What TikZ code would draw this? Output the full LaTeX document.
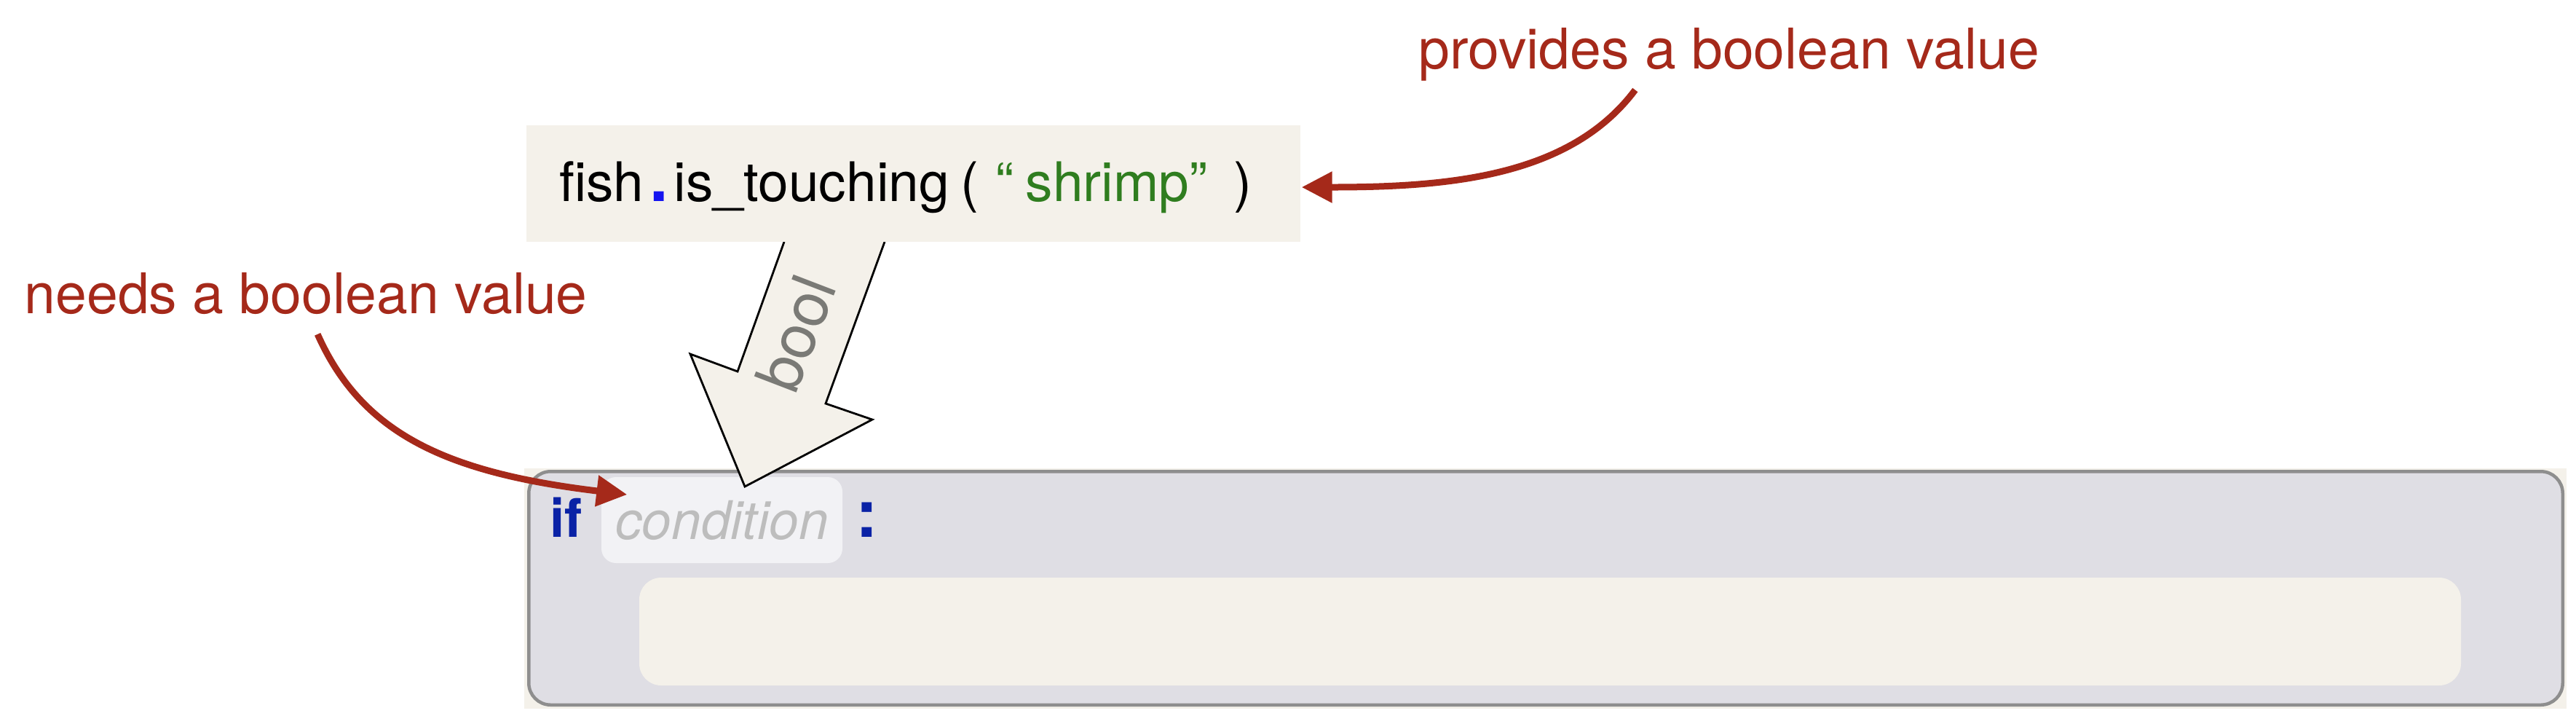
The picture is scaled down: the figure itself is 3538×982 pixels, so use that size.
\documentclass[tikz,border=0pt]{standalone}
\usepackage{fontspec}
\setmainfont{TeX Gyre Heros}
\usepackage{tikz}
\usetikzlibrary{calc,arrows.meta}

\definecolor{paper}{HTML}{F4F1EA}
\definecolor{notered}{HTML}{A5291A}
\definecolor{blockgray}{HTML}{DFDEE4}
\definecolor{edgegray}{HTML}{8E8E8E}
\definecolor{slotfill}{HTML}{F2F2F5}
\definecolor{slottext}{HTML}{BDBDBD}
\definecolor{kwblue}{HTML}{0A22A6}
\definecolor{dotblue}{HTML}{1414F0}
\definecolor{strgreen}{HTML}{2F7D1F}
\definecolor{typegray}{HTML}{7A7A76}

\tikzset{
  note/.style={text=notered, inner sep=0pt, anchor=base west, font=\fontsize{21.9}{26}\selectfont},
  pointer/.style={draw=notered, line width=0.9mm, -{Triangle[length=4.2mm, width=4.1mm]}},
  keyword/.style={text=kwblue, inner sep=0pt, font=\fontsize{20.8}{24}\selectfont\bfseries},
}

\begin{document}
\begin{tikzpicture}[x=0.1mm, y=-0.1mm]
    \useasboundingbox (0,0) rectangle (3538,982);

    \fill[paper] (720,643) rectangle (3525,973);

    \node[draw=edgegray, line width=0.45mm, fill=blockgray, rounded corners=3mm, minimum width=279.35mm, minimum height=32.05mm, inner sep=0pt] (ifblock) at (2123,807.5) {};

    \node[fill=paper, rounded corners=3mm, minimum width=250.2mm, minimum height=14.8mm, inner sep=0pt] (body) at (2129,867) {};

    \node[fill=slotfill, rounded corners=2mm, minimum width=33.1mm, minimum height=11.8mm, inner sep=0pt, text=slottext, font=\fontsize{20.8}{24}\selectfont\itshape] (cond) at (991.5,714) {condition};

    \node[keyword, anchor=base west] (kwif) at ($(cond.west)+(-71,23)$) {if};

    \node[keyword, anchor=base, font=\fontsize{26}{30}\selectfont\bfseries] (kwcolon) at ($(cond.east)+(33,23)$) {:};

    \draw[fill=paper, line width=0.28mm, line join=miter] (1077,332) -- (1013,510) -- (948,486) -- (1023,668) -- (1198,576) -- (1134,554) -- (1215,332);

    \node[text=typegray, rotate=69, inner sep=0pt, font=\fontsize{24.2}{28}\selectfont] (booltype) at (1093,458) {bool};

    \node[fill=paper, minimum width=106.3mm, minimum height=16mm, inner sep=0pt] (code) at (1254.5,252) {};

    \node[inner sep=0pt, anchor=base west, font=\fontsize{21.3}{25}\selectfont] (call) at ($(code.west)+(45,24)$) {fish\hspace{0.8mm}\textcolor{dotblue}{\fontsize{26}{30}\selectfont\textbf{.}}\hspace{0.8mm}is\_touching\hspace{1.6mm}(\hspace{2.3mm}\textcolor{strgreen}{“\hspace{1.6mm}shrimp”}\hspace{3.6mm})};

    \node[note] (provides) at (1948,94) {provides a boolean value};

    \node[note] (needs) at (33,430) {needs a boolean value};

    \draw[pointer] ($(provides.south)+(-129,12)$) .. controls +(-90,120) and +(200,0) .. ($(code.east)+(1,5)$);

    \draw[pointer] ($(needs.south)+(16,27)$) .. controls +(61,137) and +(-248,-30) .. ($(cond.west)+(36,-35)$);

\end{tikzpicture}
\end{document}
